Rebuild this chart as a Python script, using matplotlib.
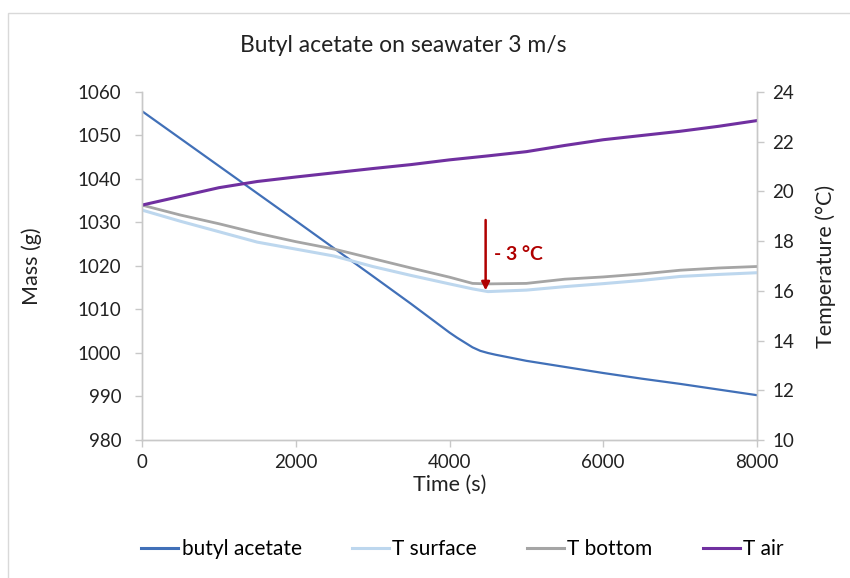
import matplotlib
matplotlib.use("Agg")
import matplotlib.pyplot as plt
from matplotlib.lines import Line2D
from matplotlib.patches import Rectangle

plt.rcParams['font.family'] = ['Lato', 'DejaVu Sans']

# ---- data ----
mass_time = [0, 1000, 2000, 3000, 3500, 4000, 4100, 4200, 4300, 4400, 4500,
             4600, 4800, 5000, 5500, 6000, 6500, 7000, 7500, 8000]
mass_g = [1055.6, 1043.0, 1030.4, 1017.7, 1011.3, 1004.7, 1003.5, 1002.4,
          1001.3, 1000.5, 1000.0, 999.6, 998.9, 998.2, 996.8, 995.4, 994.1,
          992.9, 991.6, 990.3]

temp_time = [0, 500, 1000, 1500, 2000, 2500, 3000, 3500, 4000, 4300, 4500,
             5000, 5500, 6000, 6500, 7000, 7500, 8000]
t_surface = [19.25, 18.80, 18.38, 17.96, 17.68, 17.40, 16.98, 16.62, 16.28,
             16.08, 15.97, 16.03, 16.17, 16.29, 16.42, 16.58, 16.66, 16.73]
t_bottom = [19.45, 19.05, 18.70, 18.32, 17.98, 17.68, 17.30, 16.92, 16.55,
            16.30, 16.28, 16.30, 16.47, 16.56, 16.68, 16.83, 16.92, 16.98]
air_time = [0, 500, 1000, 1500, 2000, 2500, 3000, 3500, 4000, 4500, 5000,
            5500, 6000, 6500, 7000, 7500, 8000]
t_air = [19.45, 19.80, 20.15, 20.40, 20.58, 20.75, 20.92, 21.08, 21.27, 21.43,
         21.60, 21.85, 22.08, 22.25, 22.42, 22.62, 22.85]

series_names = ['butyl acetate', 'T surface', 'T bottom', 'T air']
colors = ['#4170B8', '#BDD7EE', '#A5A5A5', '#7030A0']

title = 'Butyl acetate on seawater 3 m/s'
annot_text = '- 3 °C'
annot_time = 4470
annot_top = 18.85
annot_bottom = 16.02

# ---- figure ----
fig = plt.figure(figsize=(8.5, 5.78), dpi=100)
ax = fig.add_axes([142/850, 1-440/578, (757-142)/850, (440-92)/578])
ax2 = ax.twinx()

spine_col = '#C8C8C8'
text_col = '#222222'
ax.plot(mass_time, mass_g, color=colors[0], lw=1.6, solid_capstyle='round')
ax2.plot(temp_time, t_surface, color=colors[1], lw=2.2)
ax2.plot(temp_time, t_bottom, color=colors[2], lw=2.0)
ax2.plot(air_time, t_air, color=colors[3], lw=2.2)

ax.set_xlim(0, 8000)
ax.set_ylim(980, 1060)
ax2.set_ylim(10, 24)
ax.set_xticks(range(0, 8001, 2000))
ax.set_yticks(range(980, 1061, 10))
ax2.set_yticks(range(10, 25, 2))

for a in (ax, ax2):
    a.spines['top'].set_visible(False)
    for s in ('left', 'right', 'bottom'):
        a.spines[s].set_color(spine_col)
        a.spines[s].set_linewidth(1.0)
    a.tick_params(colors=spine_col, labelcolor=text_col, labelsize=13.5,
                  length=5, width=1.0, direction='out')
ax.tick_params(axis='y', pad=10)
ax2.tick_params(axis='y', pad=6)
ax.tick_params(axis='x', pad=5)

ax.set_xlabel('Time (s)', fontsize=15.5, color=text_col)
ax.set_ylabel('Mass (g)', fontsize=15.5, color=text_col)
ax2.set_ylabel('Temperature (°C)', fontsize=15.5, color=text_col)
ax.xaxis.set_label_coords(0.5, -0.10)
ax.yaxis.set_label_coords(-0.162, 0.5)
ax2.yaxis.set_label_coords(1.095, 0.5)

fig.text(0.475, 1-45/578, title, ha='center', va='center', fontsize=16.5,
         color=text_col)

# annotation arrow
ax2.annotate('', xy=(annot_time, annot_bottom), xytext=(annot_time, annot_top),
             arrowprops=dict(arrowstyle='-|>', color='#B00000', lw=1.8,
                             mutation_scale=12, shrinkA=0, shrinkB=0))
ax2.text(annot_time + 110, 17.45, annot_text, color='#B00000', fontsize=14,
         fontweight='bold', va='center', ha='left')

handles = [Line2D([0], [0], color=c, lw=2.2) for c in colors]
fig.legend(handles, series_names, loc='center', ncol=4,
           bbox_to_anchor=(0.544, 1-549/578), frameon=False, fontsize=15,
           handlelength=1.8, handletextpad=0.15, columnspacing=2.4)

# outer chart border
fig.patches.append(Rectangle((8/850, -0.01), 1.0, 1-13/578 + 0.01,
                             transform=fig.transFigure, fill=False,
                             edgecolor='#D9D9D9', lw=1.0))

fig.savefig('out.png', dpi=100, facecolor='white')
